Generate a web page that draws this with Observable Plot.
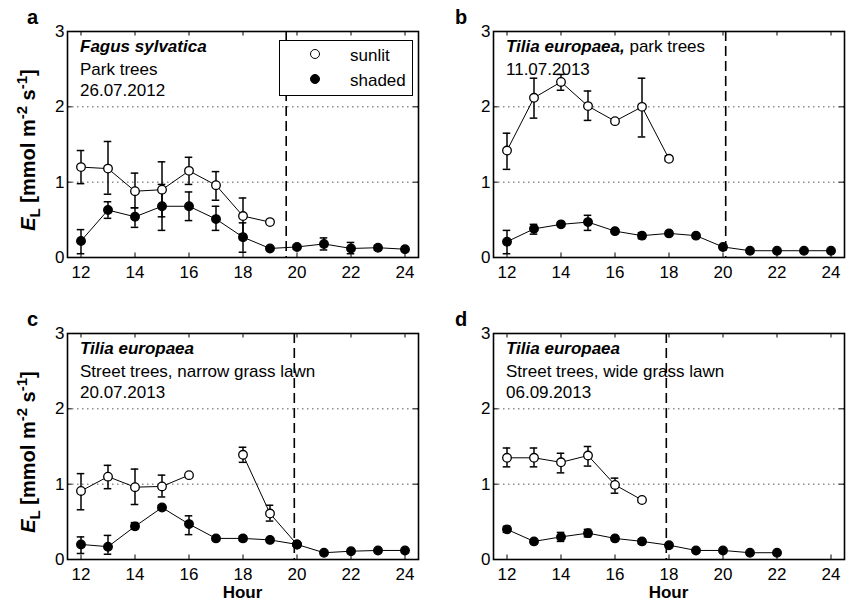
<!DOCTYPE html>
<html>
<head>
<meta charset="utf-8">
<script src="https://cdn.jsdelivr.net/npm/d3@7"></script>
<script src="https://cdn.jsdelivr.net/npm/@observablehq/plot@0.6"></script>
<style>
  body { margin: 0; background: #fff; font-family: "Liberation Sans", Arial, sans-serif; }
  #root { position: relative; width: 849px; height: 607px; overflow: hidden; background: #fff; }
  .panel { position: absolute; width: 423px; height: 300px; }
  .panel svg { position: absolute; left: 0; top: 0; }
  .txt { position: absolute; font-size: 17px; line-height: 1; white-space: nowrap; color: #000; }
  .letter { position: absolute; font-size: 20px; font-weight: bold; line-height: 1; }
  .ylab { position: absolute; font-size: 20px; font-weight: bold; white-space: nowrap; line-height: 1;
          transform: translate(-50%, -50%) rotate(-90deg); }
  .ylab sup, .ylab sub { font-size: 75%; }
  .hour { position: absolute; font-size: 17px; font-weight: bold; line-height: 1; transform: translateX(-50%); }
  .legend { position: absolute; border: 1.5px solid #000; background: #fff; box-sizing: border-box; }
  .legend .m { position: absolute; width: 8px; height: 8px; border: 1.5px solid #000; border-radius: 50%; }
</style>
</head>
<body>
<div id="root"></div>
<script>
// ---------- data ----------
const hours = [12, 13, 14, 15, 16, 17, 18, 19, 20, 21, 22, 23, 24];
const xTicks = [12, 14, 16, 18, 20, 22, 24];
const yTicks = [0, 1, 2, 3];
const gridY = [1, 2];
const seriesNames = ["sunlit", "shaded"];
const panelLetters = ["a", "b", "c", "d"];

// Panel a: Fagus sylvatica, park trees, 26.07.2012
const sunA   = [1.20, 1.18, 0.88, 0.90, 1.15, 0.96, 0.55, 0.47, null, null, null, null, null];
const sunALo = [0.98, 0.84, 0.66, 0.54, 0.97, 0.76, 0.31, null, null, null, null, null, null];
const sunAHi = [1.42, 1.54, 1.12, 1.27, 1.33, 1.14, 0.79, null, null, null, null, null, null];
const shaA   = [0.22, 0.63, 0.54, 0.68, 0.68, 0.51, 0.27, 0.12, 0.14, 0.18, 0.12, 0.13, 0.11];
const shaALo = [0.05, 0.52, 0.40, 0.36, 0.49, 0.36, 0.07, null, 0.11, 0.10, 0.05, 0.10, null];
const shaAHi = [0.37, 0.74, 0.66, 0.97, 0.87, 0.68, 0.46, null, 0.17, 0.26, 0.20, 0.16, null];
const dashA = 19.6;

// Panel b: Tilia europaea, park trees, 11.07.2013
const sunB   = [1.42, 2.12, 2.33, 2.01, 1.81, 2.00, 1.31, null, null, null, null, null, null];
const sunBLo = [1.17, 1.85, 2.22, 1.82, null, 1.60, 1.28, null, null, null, null, null, null];
const sunBHi = [1.65, 2.38, 2.43, 2.21, null, 2.38, 1.35, null, null, null, null, null, null];
const shaB   = [0.21, 0.38, 0.44, 0.47, 0.35, 0.29, 0.32, 0.29, 0.14, 0.09, 0.09, 0.09, 0.09];
const shaBLo = [0.05, 0.31, null, 0.36, null, 0.25, null, null, null, null, null, null, null];
const shaBHi = [0.36, 0.44, null, 0.56, null, 0.33, null, null, null, null, null, null, null];
const dashB = 20.1;

// Panel c: Tilia europaea, street trees, narrow grass lawn, 20.07.2013
const sunC   = [0.91, 1.10, 0.96, 0.97, 1.12, null, 1.39, 0.61, 0.20, null, null, null, null];
const sunCLo = [0.66, 0.94, 0.73, 0.83, null, null, 1.29, 0.51, null, null, null, null, null];
const sunCHi = [1.14, 1.25, 1.20, 1.12, null, null, 1.49, 0.72, null, null, null, null, null];
const shaC   = [0.20, 0.17, 0.44, 0.69, 0.47, 0.28, 0.28, 0.26, 0.20, 0.09, 0.11, 0.12, 0.12];
const shaCLo = [0.08, 0.07, 0.40, 0.66, 0.33, null, 0.25, null, null, null, null, null, null];
const shaCHi = [0.30, 0.32, 0.49, 0.72, 0.58, null, 0.31, null, null, null, null, null, null];
const dashC = 19.9;

// Panel d: Tilia europaea, street trees, wide grass lawn, 06.09.2013
const sunD   = [1.35, 1.35, 1.29, 1.38, 0.99, 0.79, null, null, null, null, null, null, null];
const sunDLo = [1.23, 1.23, 1.15, 1.24, 0.88, 0.76, null, null, null, null, null, null, null];
const sunDHi = [1.48, 1.48, 1.41, 1.50, 1.08, 0.82, null, null, null, null, null, null, null];
const shaD   = [0.40, 0.24, 0.30, 0.35, 0.28, 0.24, 0.19, 0.12, 0.12, 0.09, 0.09, null, null];
const shaDLo = [0.36, null, 0.24, 0.30, null, 0.21, null, null, null, null, null, null, null];
const shaDHi = [0.44, null, 0.36, 0.40, null, 0.27, null, null, null, null, null, null, null];
const dashD = 17.9;

const notesA = ["<b><i>Fagus sylvatica</i></b>", "Park trees", "26.07.2012"];
const notesB = ["<b><i>Tilia europaea,</i></b> park trees", "11.07.2013"];
const notesC = ["<b><i>Tilia europaea</i></b>", "Street trees, narrow grass lawn", "20.07.2013"];
const notesD = ["<b><i>Tilia europaea</i></b>", "Street trees, wide grass lawn", "06.09.2013"];

// ---------- layout ----------
const W = 423, H = 300, ML = 67, MR = 5, MT = 31, MB = 43;
const xDomain = [11.5, 24.5];
const FONT = '"Liberation Sans", Arial, Helvetica, sans-serif';

function buildPanel(cfg) {
  const rows = hours.map((h, i) => ({
    h,
    sun: cfg.sun[i], sunLo: cfg.sunLo[i], sunHi: cfg.sunHi[i],
    sha: cfg.sha[i], shaLo: cfg.shaLo[i], shaHi: cfg.shaHi[i]
  }));
  const sunErr = rows.filter(d => d.sunLo != null);
  const shaErr = rows.filter(d => d.shaLo != null);
  const cap = 0.14;
  const tkx = 0.06, tky = 0.18;
  const errMarks = (data, lo, hi) => [
    Plot.ruleX(data, {x: "h", y1: lo, y2: hi, stroke: "#000", strokeWidth: 1.5}),
    Plot.ruleY(data, {y: lo, x1: d => d.h - cap, x2: d => d.h + cap, stroke: "#000", strokeWidth: 1.5}),
    Plot.ruleY(data, {y: hi, x1: d => d.h - cap, x2: d => d.h + cap, stroke: "#000", strokeWidth: 1.5})
  ];
  return Plot.plot({
    width: W, height: H,
    marginLeft: ML, marginRight: MR, marginTop: MT, marginBottom: MB,
    x: {domain: xDomain},
    y: {domain: [0, 3]},
    style: {fontFamily: FONT, fontSize: "17px", color: "#000", background: "transparent", overflow: "visible"},
    marks: [
      Plot.ruleY(gridY, {stroke: "#555", strokeDasharray: "1.5,3.5", strokeWidth: 1}),
      Plot.ruleX([cfg.dash], {stroke: "#000", strokeDasharray: "10,5", strokeWidth: 1.6}),
      // inward ticks
      Plot.ruleX(xTicks, {x: d => d, y1: 0, y2: tkx, stroke: "#000", strokeWidth: 1}),
      Plot.ruleX(xTicks, {x: d => d, y1: 3, y2: 3 - tkx, stroke: "#000", strokeWidth: 1}),
      Plot.ruleY(yTicks, {y: d => d, x1: xDomain[0], x2: xDomain[0] + tky, stroke: "#000", strokeWidth: 1}),
      Plot.ruleY(yTicks, {y: d => d, x1: xDomain[1], x2: xDomain[1] - tky, stroke: "#000", strokeWidth: 1}),
      Plot.axisX({ticks: xTicks, tickSize: 0, tickPadding: 8, label: null, tickFormat: d => String(d)}),
      Plot.axisY({ticks: yTicks, tickSize: 0, tickPadding: 3, label: null, tickFormat: d => String(d)}),
      ...errMarks(sunErr, "sunLo", "sunHi"),
      ...errMarks(shaErr, "shaLo", "shaHi"),
      Plot.line(rows, {x: "h", y: "sun", stroke: "#000", strokeWidth: 1}),
      Plot.line(rows, {x: "h", y: "sha", stroke: "#000", strokeWidth: 1}),
      Plot.dot(rows, {x: "h", y: "sun", r: 4.3, fill: "#fff", stroke: "#000", strokeWidth: 1.3}),
      Plot.dot(rows, {x: "h", y: "sha", r: 4.3, fill: "#000", stroke: "#000", strokeWidth: 1.3}),
      Plot.frame({stroke: "#000", strokeWidth: 1.6})
    ]
  });
}

const panels = [
  {left: 0,   top: 0,   sun: sunA, sunLo: sunALo, sunHi: sunAHi, sha: shaA, shaLo: shaALo, shaHi: shaAHi, dash: dashA, notes: notesA, ylab: true,  hour: false, legend: true},
  {left: 426, top: 0,   sun: sunB, sunLo: sunBLo, sunHi: sunBHi, sha: shaB, shaLo: shaBLo, shaHi: shaBHi, dash: dashB, notes: notesB, ylab: false, hour: false, legend: false},
  {left: 0,   top: 302, sun: sunC, sunLo: sunCLo, sunHi: sunCHi, sha: shaC, shaLo: shaCLo, shaHi: shaCHi, dash: dashC, notes: notesC, ylab: true,  hour: true,  legend: false},
  {left: 426, top: 302, sun: sunD, sunLo: sunDLo, sunHi: sunDHi, sha: shaD, shaLo: shaDLo, shaHi: shaDHi, dash: dashD, notes: notesD, ylab: false, hour: true,  legend: false}
];

const root = document.getElementById("root");
const baselines = [52, 75, 96];
panels.forEach((p, i) => {
  const div = document.createElement("div");
  div.className = "panel";
  div.style.left = p.left + "px";
  div.style.top = p.top + "px";
  div.appendChild(buildPanel(p));

  const letter = document.createElement("div");
  letter.className = "letter";
  letter.textContent = panelLetters[i];
  letter.style.left = (i % 2 ? 29 : 27) + "px";
  letter.style.top = (24 - 17) + "px";
  div.appendChild(letter);

  p.notes.forEach((t, j) => {
    const n = document.createElement("div");
    n.className = "txt";
    n.innerHTML = t;
    n.style.left = "80px";
    n.style.top = (baselines[j] - 14.4) + "px";
    div.appendChild(n);
  });

  if (p.ylab) {
    const y = document.createElement("div");
    y.className = "ylab";
    y.innerHTML = '<i>E</i><sub>L</sub> [mmol m<sup>-2</sup> s<sup>-1</sup>]';
    y.style.left = "28px";
    y.style.top = "150px";
    div.appendChild(y);
  }
  if (p.hour) {
    const hr = document.createElement("div");
    hr.className = "hour";
    hr.textContent = "Hour";
    hr.style.left = (ML + (W - ML - MR) / 2) + "px";
    hr.style.top = (297 - 15) + "px";
    div.appendChild(hr);
  }
  if (p.legend) {
    const lg = document.createElement("div");
    lg.className = "legend";
    lg.style.left = "279px"; lg.style.top = "40px";
    lg.style.width = "134px"; lg.style.height = "56px";
    seriesNames.forEach((s, k) => {
      const m = document.createElement("div");
      m.className = "m";
      m.style.left = (315 - 279 - 6) + "px";
      m.style.top = (15 + 25 * k - 6 - 1.5) + "px";
      m.style.background = k === 0 ? "#fff" : "#000";
      lg.appendChild(m);
      const t = document.createElement("div");
      t.className = "txt";
      t.textContent = s;
      t.style.left = (349 - 279) + "px";
      t.style.top = (22 + 25 * k - 14.4 - 1.5) + "px";
      lg.appendChild(t);
    });
    div.appendChild(lg);
  }
  root.appendChild(div);
});
</script>
</body>
</html>
